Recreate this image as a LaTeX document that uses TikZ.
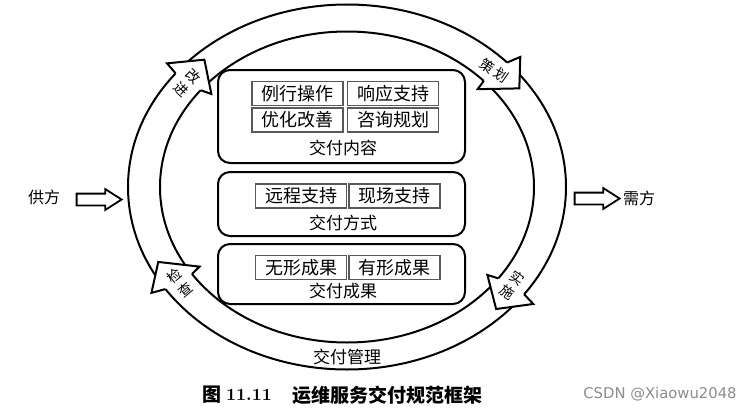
\documentclass[tikz,border=0pt]{standalone}
\usepackage{fontspec}
\newfontfamily\cjk{Noto Sans CJK SC}
\newfontfamily\wmfont{DejaVu Sans}
\usetikzlibrary{positioning,shapes.arrows}

\begin{document}
\begin{tikzpicture}[
  x=0.5pt,y=-0.5pt,
  font=\cjk,
  ring/.style={line width=1pt,line join=miter},
  contentbox/.style={draw,line width=1pt,rounded corners=6pt,
    minimum width=123.5pt,inner sep=0pt},
  itembox/.style={draw=black!65,line width=0.8pt,minimum width=45.5pt,
    minimum height=12pt,inner sep=0pt,font=\cjk\fontsize{9}{10}\selectfont},
  boxlabel/.style={font=\cjk\fontsize{8.5}{10}\selectfont,inner sep=0pt},
  steplabel/.style={font=\cjk\fontsize{7}{8.6}\selectfont,align=center,inner sep=0pt},
  hollowarrow/.style={draw,line width=0.9pt,single arrow,
    single arrow head extend=2.25pt,single arrow tip angle=65,
    minimum width=9.5pt,minimum height=22.5pt,inner xsep=0pt,inner ysep=2.5pt}
]
\useasboundingbox (0,0) rectangle (750,412);

% ring of management
\draw[ring] (347,187) ellipse [x radius=219,y radius=182.5];
\draw[ring] (347,187) ellipse [x radius=187,y radius=155.5];

% arrow heads on the ring
\foreach \t/\txt/\rot [count=\i] in
  {219.5/{改\\进}/-43, 318/{策\,划}/-35, 37/{实\\施}/-35, 147/{检\\查}/40}{
  \pgfmathsetmacro\tb{\t-1}
  \pgfmathsetmacro\tp{\t+7.5}
  \pgfmathsetmacro\tl{\t-1.5}
  \coordinate (so\i) at ({347+219*cos(\tb)},{187+182.5*sin(\tb)});
  \coordinate (bo\i) at ({347+233.2*cos(\t)},{187+194.4*sin(\t)});
  \coordinate (tip\i) at ({347+209.1*cos(\tp)},{187+174.1*sin(\tp)});
  \coordinate (bi\i) at ({347+175.8*cos(\t)},{187+146.2*sin(\t)});
  \coordinate (si\i) at ({347+187*cos(\tb)},{187+155.5*sin(\tb)});
  \fill[white] (so\i) -- (bo\i) -- (tip\i) -- (bi\i) -- (si\i) -- cycle;
  \draw[ring] (so\i) -- (bo\i) -- (tip\i) -- (bi\i) -- (si\i);
  \node[steplabel,rotate=\rot] (stage\i)
    at ({347+203*cos(\tl)},{187+169*sin(\tl)}) {\txt};
}
\node[boxlabel] (manage) at (347,357) {交付管理};

% delivery boxes
\node[contentbox,minimum height=46.5pt] (content) at (341.5,116.5) {};
\node[contentbox,minimum height=32pt] (mode) at (341.5,204) {};
\node[contentbox,minimum height=30pt] (result) at (341.5,274) {};

\node[itembox] (routine) at (297.5,93.5) {例行操作};
\node[itembox,right=1.5pt of routine] (response) {响应支持};
\node[itembox] (optimize) at (297.5,120) {优化改善};
\node[itembox,right=1.5pt of optimize] (consult) {咨询规划};
\node[boxlabel] (contentlabel) at (343,148) {交付内容};

\node[itembox] (remote) at (301,196) {远程支持};
\node[itembox,right=0.5pt of remote] (onsite) {现场支持};
\node[boxlabel] (modelabel) at (343,223) {交付方式};

\node[itembox] (intangible) at (301,267.5) {无形成果};
\node[itembox,right=0.5pt of intangible] (tangible) {有形成果};
\node[boxlabel] (resultlabel) at (343,291) {交付成果};

% supply and demand
\node[font=\cjk\fontsize{8}{9}\selectfont] (supply) at (44,197) {供方};
\node[hollowarrow] (supplyarrow) at (94.5,199.5) {};
\node[hollowarrow] (demandarrow) at (592.5,198.5) {};
\node[font=\cjk\fontsize{8}{9}\selectfont] (demand) at (639,198) {需方};

% caption
\node[font=\cjk\bfseries\fontsize{9.5}{11}\selectfont] (figchar) at (212,395) {图};
\node[font=\rmfamily\bfseries\fontsize{8.5}{10}\selectfont] (fignum) at (249,395) {11.11};
\node[font=\cjk\bfseries\fontsize{9.5}{11}\selectfont] (figtitle) at (387,395) {运维服务交付规范框架};
\node[font=\wmfont\fontsize{7.4}{9}\selectfont,text=black!45] (watermark) at (660,394) {CSDN @Xiaowu2048};
\end{tikzpicture}
\end{document}
